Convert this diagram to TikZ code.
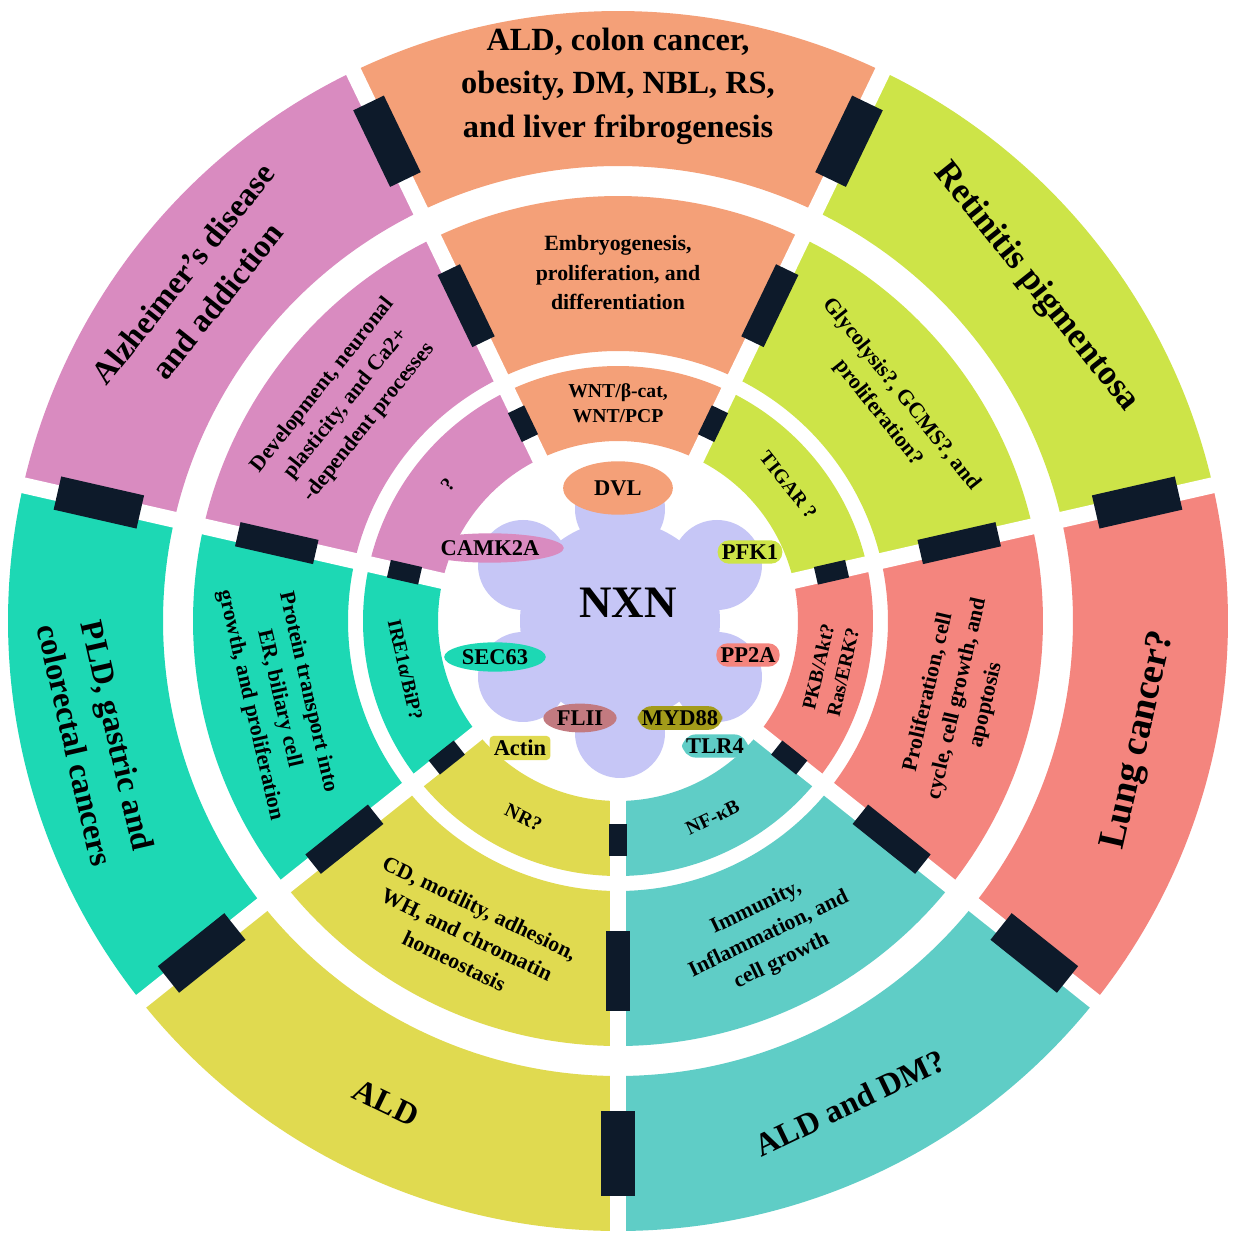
\documentclass[tikz,border=0pt]{standalone}
\usepackage{fontspec}
\setmainfont{Liberation Serif}
\usetikzlibrary{shapes.geometric}
\definecolor{cOr}{HTML}{F4A078}
\definecolor{cGr}{HTML}{CDE448}
\definecolor{cRd}{HTML}{F4857E}
\definecolor{cTl}{HTML}{5FCDC6}
\definecolor{cYe}{HTML}{E0DA50}
\definecolor{cTg}{HTML}{1DD8B4}
\definecolor{cPk}{HTML}{D98BC0}
\definecolor{cLv}{HTML}{C6C6F6}
\definecolor{cOl}{HTML}{A39B1A}
\definecolor{cMv}{HTML}{C27A80}
\definecolor{cBk}{HTML}{0D1A2A}
\tikzset{
 outer/.style={font=\bfseries\fontsize{23}{31}\selectfont,align=center,text=black},
 mid/.style={font=\bfseries\fontsize{15.5}{21}\selectfont,align=center,text=black},
 inn/.style={font=\bfseries\fontsize{14}{18}\selectfont,align=center,text=black},
 prot/.style={font=\bfseries\fontsize{16}{18}\selectfont,inner sep=3pt,text=black},
}
\begin{document}
\begin{tikzpicture}[x=0.025cm,y=0.025cm]
\useasboundingbox (-618,-620) rectangle (618,621);
\fill[white] (-618,-620) rectangle (618,621);
% sectors
\foreach \a/\c in {-90/cTl,-38.571/cRd,12.857/cGr,64.286/cOr,115.714/cPk,167.143/cTg,218.571/cYe}{
 \pgfmathsetmacro{\b}{\a+51.4286}
 \foreach \ri/\ro in {455/610,270/425,180/255}{
  \fill[\c] (\a:\ri) arc[start angle=\a,end angle=\b,radius=\ri] -- (\b:\ro) arc[start angle=\b,end angle=\a,radius=\ro] -- cycle;
 }
}
% gaps
\foreach \a in {-90,-38.571,12.857,64.286,115.714,167.143,218.571}{
 \draw[white,line width=0.4cm] (\a:175) -- (\a:615);
 \draw[cBk,line width=0.85cm] (\a:490) -- (\a:575);
 \draw[cBk,line width=0.62cm] (\a:310) -- (\a:390);
 \draw[cBk,line width=0.45cm] (\a:203) -- (\a:235);
}
% center flower
\node[coordinate] (c) at (2,0) {};
\fill[cLv] (c) circle (100);
\foreach \t in {90,30,-30,-90,210,150}{\fill[cLv] (c) ++(\t:112) circle (45);}
\node[font=\bfseries\fontsize{32}{36}\selectfont] (nxn) at (10,18) {NXN};
% proteins
\node[prot,ellipse,minimum width=78,minimum height=38,fill=cOr] (dvl) at (0,133) {DVL};
\node[prot,rounded corners=8pt,fill=cGr] (pfk) at (132,69) {PFK1};
\node[prot,rounded corners=8pt,fill=cRd] (pp2a) at (130,-34) {PP2A};
\node[prot,ellipse,inner sep=2pt,fill=cPk] (camk) at (-128,73) {CAMK2A};
\node[prot,ellipse,inner sep=2pt,fill=cTg] (sec) at (-123,-36) {SEC63};
\node[prot,rounded corners=10pt,fill=cTl] (tlr) at (97,-125) {TLR4};
\node[prot,rounded corners=10pt,fill=cOl] (myd) at (62,-97) {MYD88};
\node[prot,ellipse,inner sep=2pt,fill=cMv] (flii) at (-38,-97) {FLII};
\node[prot,rounded corners=3pt,fill=cYe] (act) at (-98,-127) {Actin};
% outer texts
\node[outer] (o1) at (90:535) {ALD, colon cancer,\\obesity, DM, NBL, RS,\\and liver fribrogenesis};
\node[outer,rotate=-51.4,font=\bfseries\fontsize{25}{31}\selectfont] (o2) at (38.6:535) {Retinitis pigmentosa};
\node[outer,rotate=77.1,font=\bfseries\fontsize{27}{31}\selectfont] (o3) at (-12.9:535) {Lung cancer?};
\node[outer,rotate=25.7] (o4) at (-64.3:535) {ALD and DM?};
\node[outer,rotate=-25.7] (o5) at (244.3:535) {ALD};
\node[outer,rotate=-77.1] (o6) at (192.9:535) {PLD, gastric and\\colorectal cancers};
\node[outer,rotate=51.4] (o7) at (141.4:535) {Alzheimer's disease\\and addiction};
% middle texts
\node[mid] (m1) at (90:348) {Embryogenesis,\\proliferation, and\\differentiation};
\node[mid,rotate=-51.4] (m2) at (38.6:348) {Glycolysis?, GCMS?, and\\proliferation?};
\node[mid,rotate=77.1] (m3) at (-12.9:348) {Proliferation, cell\\cycle, cell growth, and\\apoptosis};
\node[mid,rotate=25.7] (m4) at (-64.3:348) {Immunity,\\Inflammation, and\\cell growth};
\node[mid,rotate=-25.7] (m5) at (244.3:348) {CD, motility, adhesion,\\WH, and chromatin\\homeostasis};
\node[mid,rotate=-77.1] (m6) at (192.9:348) {Protein transport into\\ER, biliary cell\\growth, and proliferation};
\node[mid,rotate=51.4] (m7) at (141.4:348) {Development, neuronal\\plasticity, and Ca2+\\-dependent processes};
% inner texts
\node[inn] (i1) at (90:218) {WNT/β-cat,\\WNT/PCP};
\node[inn,rotate=-51.4] (i2) at (38.6:218) {TIGAR ?};
\node[inn,rotate=77.1] (i3) at (-12.9:218) {PKB/Akt?\\Ras/ERK?};
\node[inn,rotate=25.7] (i4) at (-64.3:218) {NF-κB};
\node[inn,rotate=-25.7] (i5) at (244.3:218) {NR?};
\node[inn,rotate=-77.1] (i6) at (192.9:218) {IRE1α/BiP?};
\node[inn,rotate=51.4] (i7) at (141.4:218) {?};
\end{tikzpicture}
\end{document}
